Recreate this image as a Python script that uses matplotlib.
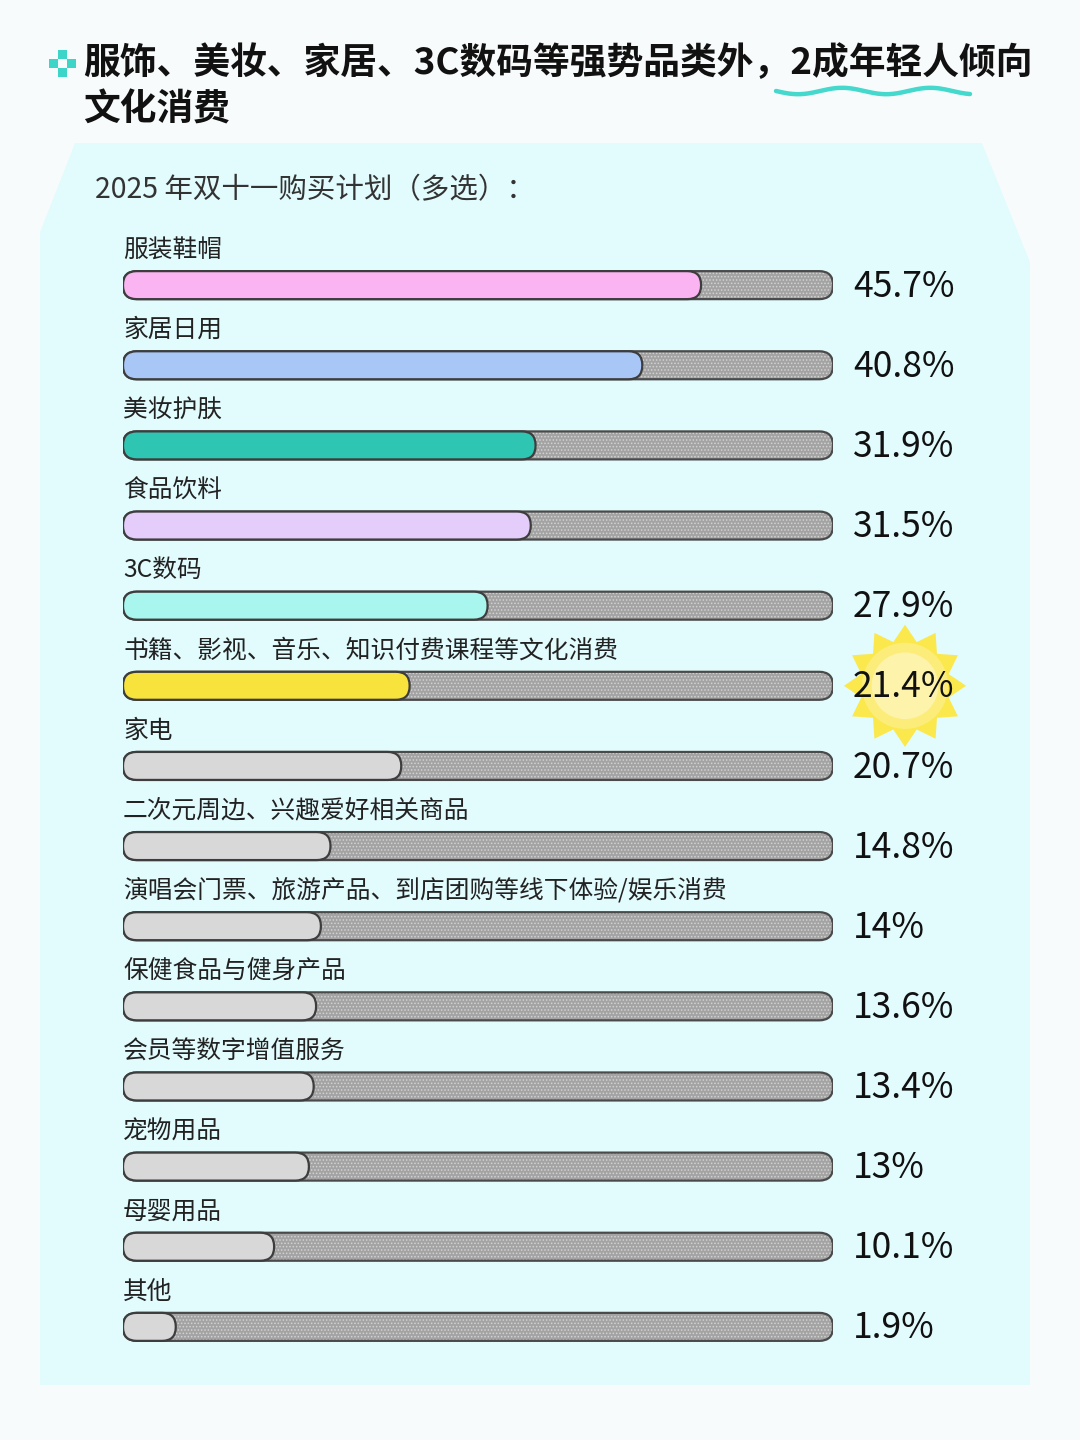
import numpy as np
import matplotlib.pyplot as plt
from matplotlib.patches import FancyBboxPatch, Polygon
from matplotlib.path import Path

plt.rcParams['font.family'] = ['Noto Sans CJK SC', 'DejaVu Sans']
plt.rcParams['hatch.linewidth'] = 0.7

# data
categories = ['服装鞋帽', '家居日用', '美妆护肤', '食品饮料', '3C数码',
              '书籍、影视、音乐、知识付费课程等文化消费', '家电',
              '二次元周边、兴趣爱好相关商品',
              '演唱会门票、旅游产品、到店团购等线下体验/娱乐消费',
              '保健食品与健身产品', '会员等数字增值服务', '宠物用品', '母婴用品', '其他']
values = [45.7, 40.8, 31.9, 31.5, 27.9, 21.4, 20.7, 14.8, 14.0, 13.6, 13.4, 13.0, 10.1, 1.9]
value_labels = ['45.7%', '40.8%', '31.9%', '31.5%', '27.9%', '21.4%', '20.7%',
                '14.8%', '14%', '13.6%', '13.4%', '13%', '10.1%', '1.9%']
fill_colors = ['#fbb4f2', '#a9c7f6', '#2ec5b3', '#e4cdfb', '#a9f6ee', '#f8e23c',
               '#d8d8d8', '#d8d8d8', '#d8d8d8', '#d8d8d8', '#d8d8d8', '#d8d8d8',
               '#d8d8d8', '#d8d8d8']
highlight = 5

title1 = '服饰、美妆、家居、3C数码等强势品类外，2成年轻人倾向'
title2 = '文化消费'
subtitle = '2025 年双十一购买计划（多选）：'

W, H = 1080, 1440
fig = plt.figure(figsize=(10.8, 14.4), dpi=100)
fig.patch.set_facecolor('#f8fbfc')

def fx(x):
    return x / W

def fy(y):
    return 1 - y / H

# background panel
bg = fig.add_axes([0, 0, 1, 1], zorder=0)
bg.set_xlim(0, W)
bg.set_ylim(H, 0)
bg.axis('off')
bg.add_patch(Polygon([(75, 143), (982, 143), (1030, 262), (1030, 1385),
                      (40, 1385), (40, 232)], closed=True,
                     facecolor='#e2fbfd', edgecolor='none'))

# title icon: four dots
for dx, dy in [(-9, 0), (9, 0), (0, -9), (0, 9)]:
    bg.add_patch(plt.Rectangle((62 + dx - 4.5, 63 + dy - 4.5), 9, 9,
                               facecolor='#3cd5c8', edgecolor='none'))

fig.text(fx(83), fy(64), title1, fontsize=26.5, fontweight='bold',
         color='#111111', va='center', ha='left')
fig.text(fx(83), fy(110), title2, fontsize=26.5, fontweight='bold',
         color='#111111', va='center', ha='left')

# wavy underline
wx = np.linspace(776, 970, 200)
wy = 91 + 3.2 * np.sin((wx - 776) / 194 * 2 * np.pi * 2.2)
bg.plot(wx, wy, color='#45d8cc', lw=3.2, solid_capstyle='round')

fig.text(fx(95), fy(190), subtitle, fontsize=20.5, color='#333333',
         va='center', ha='left')

# bars
X0 = -2.5          # left cap of the track
TRACK = 56.7
left_px, right_px = 123, 833
top_px, bot_px = 205, 1407
ax = fig.add_axes([fx(left_px), fy(bot_px), fx(right_px - left_px),
                   (bot_px - top_px) / H], zorder=2)
ax.set_xlim(X0, TRACK)
ax.set_ylim(14, -1)
ax.axis('off')

px_x = (right_px - left_px) / (TRACK - X0)
px_y = (bot_px - top_px) / 15.0
bar_h = 28 / px_y
asp = px_x / px_y
rad = 14 / px_x * 0.98

def rbox(x0, x1, y, **kw):
    return FancyBboxPatch((x0, y - bar_h / 2), x1 - x0, bar_h,
                          boxstyle=f'round,pad=0,rounding_size={rad}',
                          mutation_aspect=asp, **kw)

for i, (cat, v, lab, col) in enumerate(zip(categories, values, value_labels, fill_colors)):
    ax.add_patch(rbox(X0, TRACK, i, facecolor='#a3a3a3', edgecolor='#d2d2d2',
                      lw=0, hatch='.....', zorder=1))
    ax.add_patch(rbox(X0, TRACK, i, facecolor='none', edgecolor='#4a4a4a',
                      lw=1.6, zorder=2))
    ax.add_patch(rbox(X0, max(v, X0 + 2.3 * rad), i, facecolor=col,
                      edgecolor='#3d3d3d', lw=1.6, zorder=3))
    ax.text(X0, i - 0.44, cat, fontsize=17.8, color='#222222',
            va='center', ha='left')
    ax.text(TRACK + 20 / px_x, i + 0.02, lab, fontsize=25.5, fontweight=500,
            color='#111111', va='center', ha='left', zorder=6)

# starburst behind highlighted value
n = 12
ang = np.linspace(0, 2 * np.pi, 2 * n, endpoint=False) + np.pi / 2
rr = np.where(np.arange(2 * n) % 2 == 0, 1.0, 0.74)
verts = np.column_stack([rr * np.cos(ang), rr * np.sin(ang)])
verts = np.vstack([verts, verts[:1]])
star = Path(verts, [Path.MOVETO] + [Path.LINETO] * (2 * n - 1) + [Path.CLOSEPOLY])
sx = TRACK + (905 - right_px) / px_x
ax.scatter([sx], [highlight], marker=star, s=88 ** 2, color='#fbe84c',
           edgecolors='none', zorder=4, clip_on=False)
for s, a in [(62 ** 2, 0.3), (48 ** 2, 0.45)]:
    ax.scatter([sx], [highlight], marker='o', s=s, color='#fffbe6', alpha=a,
               edgecolors='none', zorder=5, clip_on=False)

fig.savefig('out.png', dpi=100, facecolor=fig.get_facecolor())
